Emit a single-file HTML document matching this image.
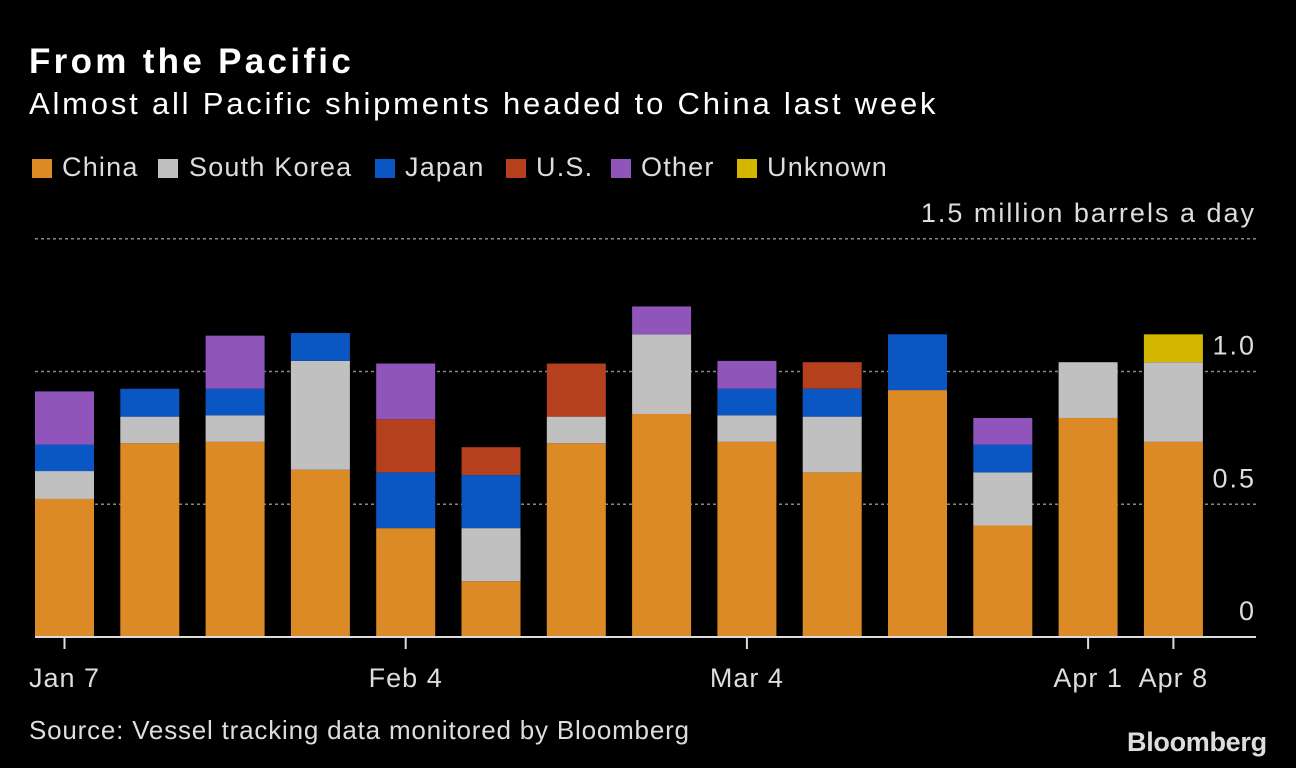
<!DOCTYPE html>
<html><head><meta charset="utf-8"><style>
html,body{margin:0;padding:0;background:#000;}
body{width:1296px;height:768px;overflow:hidden;position:relative;font-family:"Liberation Sans",sans-serif;color:#fff;}
.t{position:absolute;white-space:nowrap;}
.sw{position:absolute;top:159px;width:20px;height:19px;}
.lt{position:absolute;top:152px;font-size:27px;color:#ddd;letter-spacing:1.2px;white-space:nowrap;}
</style></head><body>
<div class="t" style="left:29px;top:42px;font-size:35px;font-weight:bold;letter-spacing:3.3px;">From the Pacific</div>
<div class="t" style="left:29px;top:86px;font-size:31px;letter-spacing:2.8px;">Almost all Pacific shipments headed to China last week</div>
<div>
<div class="sw" style="left:32px;background:#dc8a26"></div><div class="lt" style="left:62px">China</div>
<div class="sw" style="left:158px;background:#c0c0c0"></div><div class="lt" style="left:189px">South Korea</div>
<div class="sw" style="left:375px;background:#0a56c2"></div><div class="lt" style="left:405px">Japan</div>
<div class="sw" style="left:506px;background:#b5401d"></div><div class="lt" style="left:536px">U.S.</div>
<div class="sw" style="left:611px;background:#9055bb"></div><div class="lt" style="left:641px">Other</div>
<div class="sw" style="left:737px;background:#d4b800"></div><div class="lt" style="left:767px">Unknown</div>
</div>
<svg id="chart" width="1296" height="768" style="position:absolute;left:0;top:0" xmlns="http://www.w3.org/2000/svg"></svg>
<div class="t" style="left:29px;top:715px;font-size:26px;color:#ddd;letter-spacing:0.8px;">Source: Vessel tracking data monitored by Bloomberg</div>
<div class="t" style="left:1127px;top:727px;font-size:27px;font-weight:bold;color:#ddd;letter-spacing:-0.3px;">Bloomberg</div>
<script>
const categories=["Jan 7","Jan 14","Jan 21","Jan 28","Feb 4","Feb 11","Feb 18","Feb 25","Mar 4","Mar 11","Mar 18","Mar 25","Apr 1","Apr 8"];
const china=[0.52,0.73,0.735,0.63,0.41,0.21,0.73,0.84,0.735,0.62,0.93,0.42,0.825,0.735];
const southKorea=[0.105,0.10,0.10,0.41,0,0.20,0.10,0.30,0.10,0.21,0,0.20,0.21,0.30];
const japan=[0.10,0.105,0.10,0.105,0.21,0.20,0,0,0.10,0.105,0.21,0.105,0,0];
const us=[0,0,0,0,0.20,0.105,0.20,0,0,0.10,0,0,0,0];
const other=[0.20,0,0.20,0,0.21,0,0,0.105,0.105,0,0,0.10,0,0];
const unknown=[0,0,0,0,0,0,0,0,0,0,0,0,0,0.105];
const yTicks=[0,0.5,1.0,1.5];
const yTickLabels=["0","0.5","1.0","1.5 million barrels a day"];
const xTickLabels=["Jan 7","Feb 4","Mar 4","Apr 1","Apr 8"];
const xTickIdx=[0,4,8,12,13];

const svg=document.getElementById('chart');
const NS='http://www.w3.org/2000/svg';
const y0=637,pxPerUnit=265.5,x0=35,step=85.3,bw=59;
const yS=v=>y0-v*pxPerUnit;
const xS=i=>x0+i*step;
function mk(t,a){const e=document.createElementNS(NS,t);for(const k in a)e.setAttribute(k,a[k]);svg.appendChild(e);return e;}
yTicks.forEach((v,i)=>{
  if(v>0){const g=mk('line',{x1:35,x2:1256,y1:yS(v),y2:yS(v),stroke:'#888','stroke-width':1.5,'stroke-dasharray':'3,3'});
  
  }
  const t=mk('text',{x:1256,y:yS(v)-17,'text-anchor':'end',fill:'#ddd','font-size':27,'font-family':'Liberation Sans','letter-spacing':2});
  t.textContent=yTickLabels[i];
  
  
});
const series=[[china,'#dc8a26','china'],[southKorea,'#c0c0c0','south-korea'],[japan,'#0a56c2','japan'],[us,'#b5401d','us'],[other,'#9055bb','other'],[unknown,'#d4b800','unknown']];
categories.forEach((c,i)=>{
  let base=0;
  series.forEach(([arr,col,nm])=>{
    const v=arr[i];if(!v)return;
    const r=mk('rect',{x:xS(i),y:yS(base+v),width:bw,height:v*pxPerUnit,fill:col});
    
    
    base+=v;
  });
});
const ax=mk('line',{x1:35,x2:1256,y1:y0,y2:y0,stroke:'#ddd','stroke-width':2});


xTickIdx.forEach((idx,j)=>{
  const cx=xS(idx)+bw/2;
  const tk=mk('line',{x1:cx,x2:cx,y1:y0,y2:y0+12,stroke:'#ddd','stroke-width':2});
  
  
  const t=mk('text',{x:cx,y:687,'text-anchor':'middle',fill:'#ddd','font-size':27,'font-family':'Liberation Sans','letter-spacing':1});
  t.textContent=xTickLabels[j];
  
  
});
</script>
</body></html>
